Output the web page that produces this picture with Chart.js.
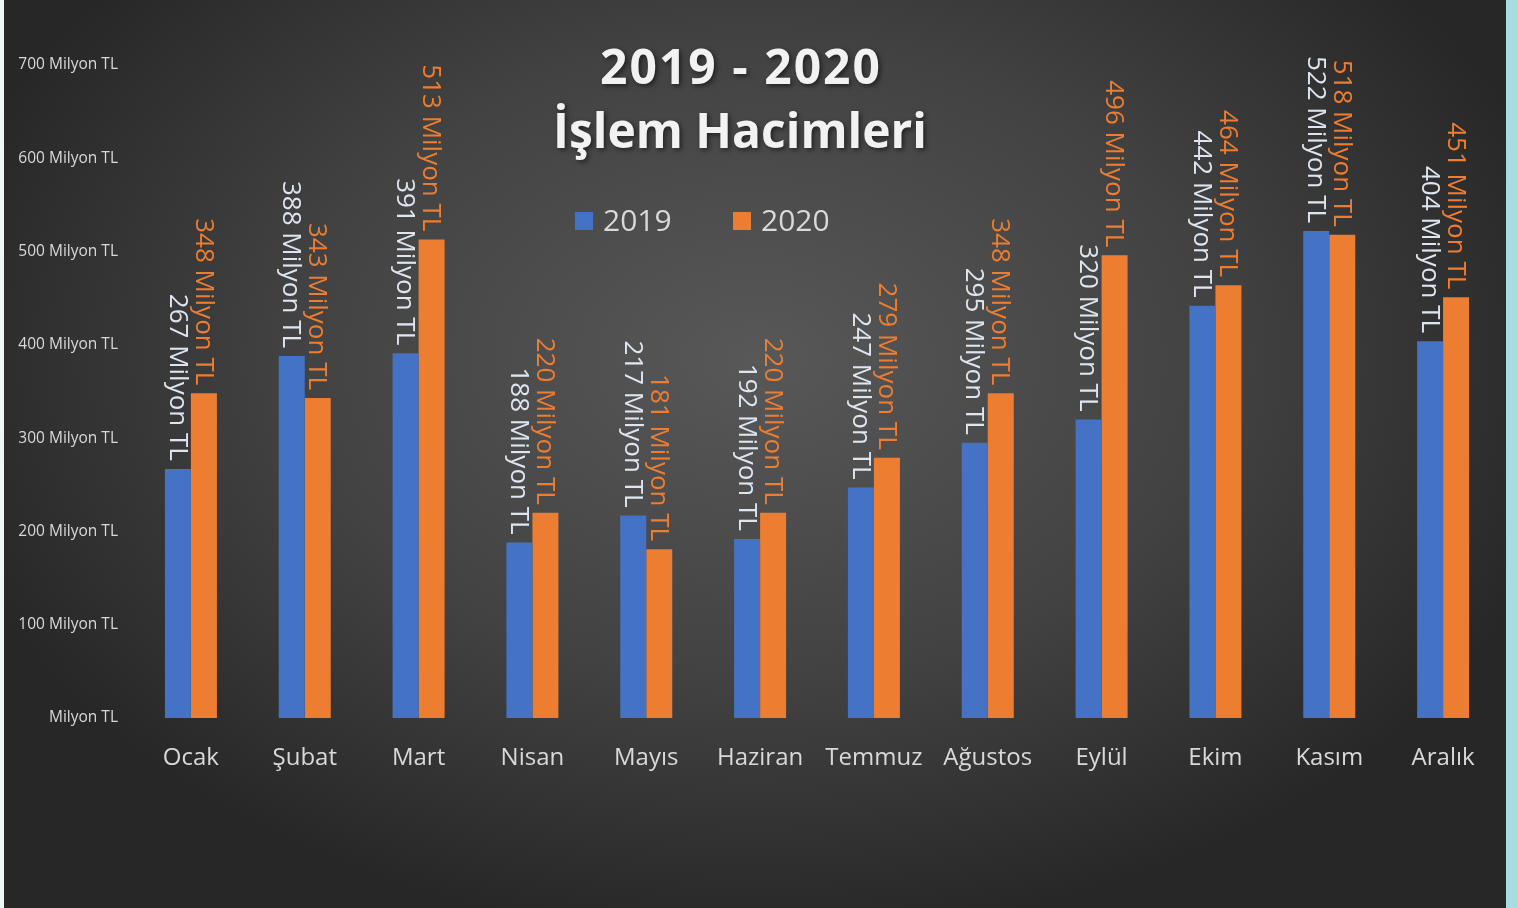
<!DOCTYPE html>
<html>
<head>
<meta charset="utf-8">
<script src="https://cdn.jsdelivr.net/npm/chart.js@4"></script>
<style>
  html, body { margin: 0; padding: 0; background: #a5dde0; }
  #wrap { position: relative; width: 1518px; height: 908px; }
  #leftStrip { position: absolute; left: 0; top: 0; width: 4px; height: 908px; background: #eef7f8; }
  #rightStrip { position: absolute; left: 1506px; top: 0; width: 12px; height: 908px; background: #a5dde0; }
</style>
</head>
<body>
<div id="wrap">
  <canvas id="barChart" width="1518" height="908"></canvas>
  <div id="leftStrip"></div>
  <div id="rightStrip"></div>
</div>
<script>
// ── Data ──────────────────────────────────────────
const months = ['Ocak', 'Şubat', 'Mart', 'Nisan', 'Mayıs', 'Haziran', 'Temmuz', 'Ağustos', 'Eylül', 'Ekim', 'Kasım', 'Aralık'];
const values2019 = [267, 388, 391, 188, 217, 192, 247, 295, 320, 442, 522, 404];
const values2020 = [348, 343, 513, 220, 181, 220, 279, 348, 496, 464, 518, 451];
const yTicks = [0, 100, 200, 300, 400, 500, 600, 700];
const titleLines = ['2019 - 2020', 'İşlem Hacimleri'];

const BLUE = '#4472c4';
const ORANGE = '#ed7d31';
const FONT = "'Open Sans', sans-serif";

// ── Background: dark radial gradient ─────────────
const bgPlugin = {
  id: 'bg',
  beforeDraw(chart) {
    const ctx = chart.ctx;
    ctx.save();
    ctx.translate(755, 360);
    ctx.scale(1.45, 1);
    const g = ctx.createRadialGradient(0, 0, 0, 0, 0, 580);
    g.addColorStop(0, '#585858');
    g.addColorStop(0.55, '#424242');
    g.addColorStop(1, '#272727');
    ctx.fillStyle = g;
    ctx.fillRect(-760 / 1.45, -360, 1518 / 1.45, 908);
    ctx.restore();
  },
};

// ── Title + legend ───────────────────────────────
const headerPlugin = {
  id: 'header',
  afterDraw(chart) {
    const ctx = chart.ctx;
    ctx.save();
    ctx.textAlign = 'center';
    ctx.textBaseline = 'middle';
    ctx.font = `bold 48px ${FONT}`;
    ctx.shadowColor = 'rgba(0,0,0,0.55)';
    ctx.shadowBlur = 5;
    ctx.shadowOffsetX = 2;
    ctx.shadowOffsetY = 2;
    ctx.fillStyle = '#f2f2f2';
    ctx.letterSpacing = '2px';
    ctx.fillText(titleLines[0], 741, 70);
    ctx.letterSpacing = '0px';
    ctx.fillText(titleLines[1], 740, 134);
    ctx.shadowColor = 'transparent';

    const items = [
      { label: '2019', color: BLUE, x: 575 },
      { label: '2020', color: ORANGE, x: 733 },
    ];
    ctx.font = `30px ${FONT}`;
    ctx.textAlign = 'left';
    items.forEach((it) => {
      ctx.fillStyle = it.color;
      ctx.fillRect(it.x, 212, 18, 18);
      ctx.fillStyle = '#d9d9d9';
      ctx.fillText(it.label, it.x + 28, 222);
    });
    ctx.restore();
  },
};

// ── Rotated value labels above bars ──────────────
const valueLabels = {
  id: 'valueLabels',
  afterDatasetsDraw(chart) {
    const ctx = chart.ctx;
    const colors = ['#dde5f0', ORANGE];
    chart.data.datasets.forEach((ds, di) => {
      const meta = chart.getDatasetMeta(di);
      meta.data.forEach((bar, i) => {
        ctx.save();
        ctx.translate(bar.x - 1, bar.y - 8);
        ctx.rotate(Math.PI / 2);
        ctx.font = `26px ${FONT}`;
        ctx.fillStyle = colors[di];
        ctx.textAlign = 'right';
        ctx.textBaseline = 'middle';
        ctx.fillText(`${ds.data[i]} Milyon TL`, 0, 0);
        ctx.restore();
      });
    });
  },
};

new Chart(document.getElementById('barChart'), {
  type: 'bar',
  data: {
    labels: months,
    datasets: [
      { label: '2019', data: values2019, backgroundColor: BLUE },
      { label: '2020', data: values2020, backgroundColor: ORANGE },
    ],
  },
  options: {
    responsive: false,
    animation: false,
    layout: { padding: { left: 0, right: 18, top: 65, bottom: 0 } },
    datasets: { bar: { categoryPercentage: 0.457, barPercentage: 1 } },
    plugins: {
      legend: { display: false },
      tooltip: { enabled: false },
    },
    scales: {
      x: {
        grid: { display: false, drawTicks: false },
        border: { display: false },
        ticks: { color: '#d9d9d9', font: { family: FONT, size: 24 }, padding: 26, maxRotation: 0 },
        afterFit: (s) => { s.height = 190; },
      },
      y: {
        min: 0,
        max: 700,
        grid: { display: false, drawTicks: false },
        border: { display: false },
        afterBuildTicks: (s) => { s.ticks = yTicks.map((v) => ({ value: v })); },
        ticks: {
          color: '#d9d9d9',
          font: { family: FONT, size: 15.5 },
          padding: 16,
          callback: (v) => (v === 0 ? 'Milyon TL' : `${v} Milyon TL`),
        },
        afterFit: (s) => { s.width = 134; },
      },
    },
  },
  plugins: [bgPlugin, valueLabels, headerPlugin],
});
</script>
</body>
</html>
